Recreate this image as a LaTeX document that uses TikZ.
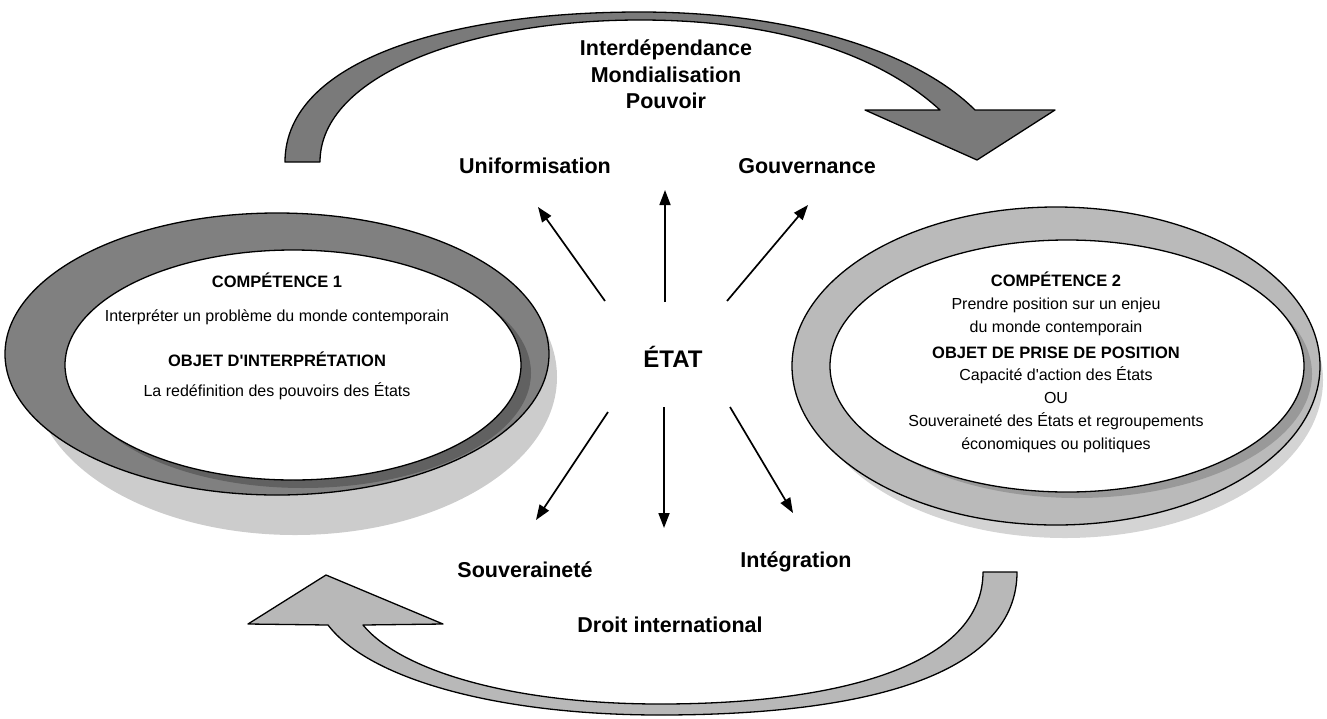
\documentclass[tikz,border=0pt]{standalone}
\usepackage{fontspec}
\setmainfont{Liberation Sans}
\usetikzlibrary{arrows.meta}
\begin{document}
\begin{tikzpicture}[x=1pt,y=-1pt,
    lbl/.style={anchor=base,font=\bfseries\fontsize{21.5}{24}\selectfont},
    txt/.style={anchor=base,font=\fontsize{16}{19}\selectfont},
    head/.style={anchor=base,font=\bfseries\fontsize{16.5}{19}\selectfont},
    ray/.style={line width=1.7pt,-{Triangle[length=15pt,width=11pt]}},
    band/.style={draw=black,line width=1.3pt,line join=round}]
    \useasboundingbox (0,0) rectangle (1327,718);
    % circular arrows
    \filldraw[band,fill=black!52] (285,162) .. controls (285,60) and (450,12) .. (640,12)
      .. controls (800,12) and (920,55) .. (975,110) -- (1055,110) -- (977,160) -- (865,110) -- (940,110)
      .. controls (880,55) and (780,20) .. (640,20) .. controls (470,20) and (320,75) .. (320,162) -- cycle;
    \filldraw[band,fill=black!28] (1017,572) .. controls (1017,670) and (880,715) .. (660,715)
      .. controls (500,715) and (370,680) .. (328,625) -- (248,624) -- (326,575) -- (443,624) -- (363,625)
      .. controls (400,670) and (510,704) .. (660,704) .. controls (840,704) and (983,665) .. (983,572) -- cycle;
    % left ring
    \fill[black!20] (295,377) ellipse [x radius=262, y radius=158];
    \filldraw[band,fill=black!50] (277,354) ellipse [x radius=272, y radius=141];
    \fill[black!62] (303,373) ellipse [x radius=228, y radius=115];
    \filldraw[band,fill=white] (293,365) ellipse [x radius=228, y radius=115];
    % right ring
    \fill[black!17] (1065,380) ellipse [x radius=258, y radius=158];
    \filldraw[band,fill=black!27] (1056,366) ellipse [x radius=264, y radius=159];
    \fill[black!40] (1077,374) ellipse [x radius=235, y radius=124];
    \filldraw[band,fill=white] (1067,366) ellipse [x radius=237, y radius=126];
    % texts
    \node[lbl] (interdep) at (666,55) {Interdépendance};
    \node[lbl] (mondial) at (666,82) {Mondialisation};
    \node[lbl] (pouvoir) at (666,108) {Pouvoir};
    \node[lbl] (unif) at (535,173) {Uniformisation};
    \node[lbl] (gouv) at (807,173) {Gouvernance};
    \node[lbl,font=\bfseries\fontsize{24}{28}\selectfont] (etat) at (673,367) {ÉTAT};
    \node[lbl] (souv) at (525,577) {Souveraineté};
    \node[lbl] (integ) at (796,567) {Intégration};
    \node[lbl] (droit) at (670,632) {Droit international};
    \node[head] (comp1) at (277,287) {COMPÉTENCE 1};
    \node[txt] (interp) at (277,321) {Interpréter un problème du monde contemporain};
    \node[head] (objet1) at (277,366) {OBJET D\textquotesingle INTERPRÉTATION};
    \node[txt] (redef) at (277,396) {La redéfinition des pouvoirs des États};
    \node[head] (comp2) at (1056,286) {COMPÉTENCE 2};
    \foreach \y/\t [count=\i] in {309/Prendre position sur un enjeu,332/du monde contemporain}
    \node[txt] (pos\i) at (1056,\y) {\t};
    \node[head] (objet2) at (1056,358) {OBJET DE PRISE DE POSITION};
    \foreach \y/\t [count=\i] in {380/Capacité d\textquotesingle action des États,403/OU,
      426/Souveraineté des États et regroupements,449/économiques ou politiques}
    \node[txt] (choix\i) at (1056,\y) {\t};
    % rays
    \foreach \xa/\ya/\xb/\yb [count=\i] in {665/302/665/190,605/301/538/207,727/301/808/205,
      664/407/664/528,608/412/536/520,730/407/793/513}{
    \path (\xa,\ya) coordinate (s\i) (\xb,\yb) coordinate (e\i);
    \draw[ray] (s\i) -- (e\i);
    }
\end{tikzpicture}
\end{document}
